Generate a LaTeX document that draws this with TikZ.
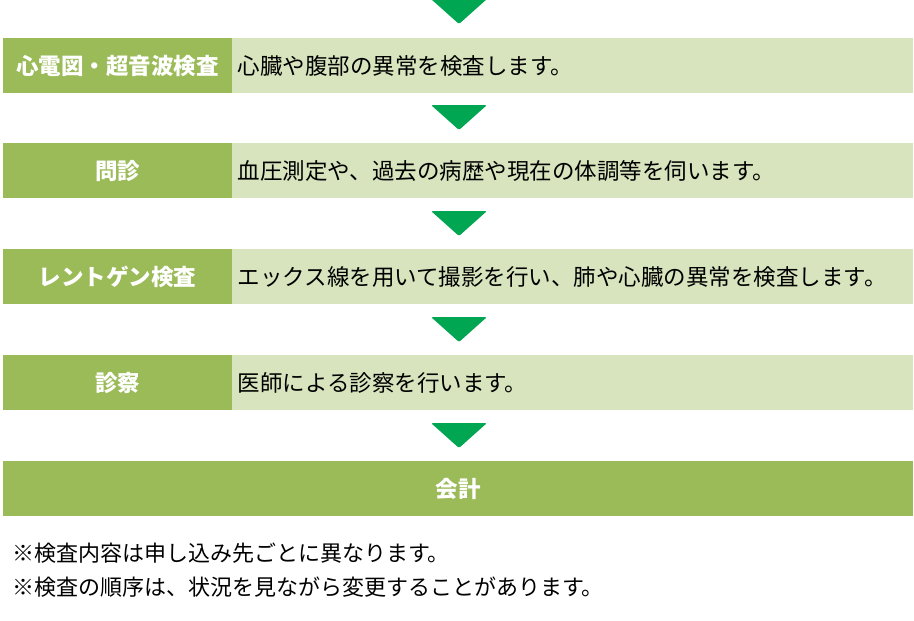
\documentclass[tikz,border=0pt]{standalone}
\usepackage{fontspec}
\setmainfont{Noto Sans CJK JP}
\usetikzlibrary{positioning}
\definecolor{stepdark}{HTML}{9BBB59}
\definecolor{steplight}{HTML}{D7E4BD}
\definecolor{arrowgreen}{HTML}{00A651}
\begin{document}
\begin{tikzpicture}[x=1pt, y=-1pt,
    stepname/.style={fill=stepdark, text=white, font=\fontsize{22.5}{26}\selectfont\bfseries, minimum width=229pt, minimum height=55pt, inner sep=0pt, anchor=north west},
    stepdesc/.style={fill=steplight, text=black, font=\fontsize{22.5}{26}\selectfont, minimum width=681pt, minimum height=55pt, inner sep=0pt, text width=670pt, align=left, anchor=north west},
    notetext/.style={font=\fontsize{22}{26}\selectfont, anchor=west, inner sep=0pt}]
    \useasboundingbox (0,0) rectangle (914,621);
    % down arrows
    \foreach \y in {0,106,212,318,424} {
        \fill[arrowgreen, rounded corners=1.5pt] (431,\y-1) -- (487,\y-1) -- (459,\y+24) -- cycle;
    }
    \fill[white] (0,-5) rectangle (914,0);
    % steps
    \node[stepname] (ecg) at (3,38) {心電図・超音波検査};
    \node[stepdesc] (ecgtxt) at (232,38) {心臓や腹部の異常を検査します。};
    \node[stepname] (interview) at (3,143) {問診};
    \node[stepdesc] (interviewtxt) at (232,143) {血圧測定や、過去の病歴や現在の体調等を伺います。};
    \node[stepname] (xray) at (3,249) {レントゲン検査};
    \node[stepdesc] (xraytxt) at (232,249) {エックス線を用いて撮影を行い、肺や心臓の異常を検査します。};
    \node[stepname] (exam) at (3,355) {診察};
    \node[stepdesc] (examtxt) at (232,355) {医師による診察を行います。};
    \node[stepname, minimum width=910pt] (pay) at (3,461) {会計};
    % notes
    \node[notetext] (note1) at (12,553) {※検査内容は申し込み先ごとに異なります。};
    \node[notetext] (note2) at (12,587) {※検査の順序は、状況を見ながら変更することがあります。};
\end{tikzpicture}
\end{document}
